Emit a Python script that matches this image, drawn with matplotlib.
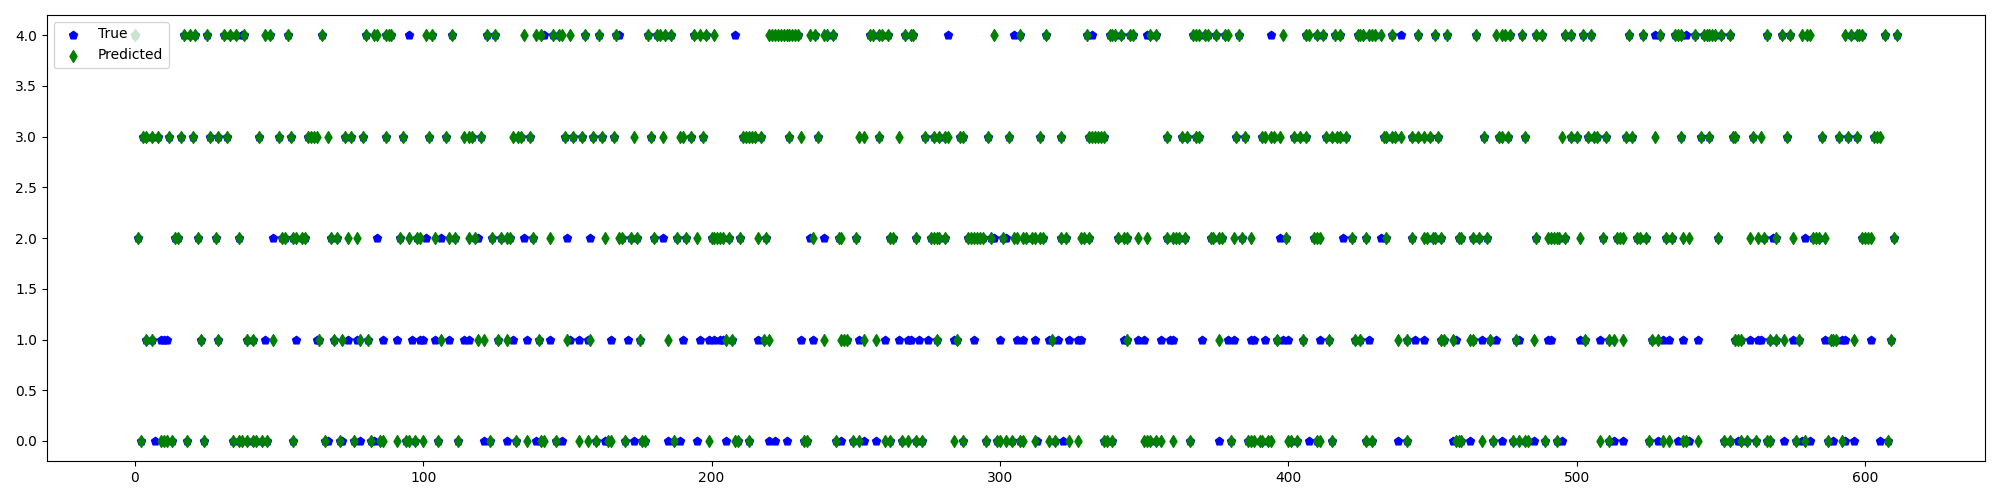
import numpy as np
import matplotlib
matplotlib.use('Agg')
import matplotlib.pyplot as plt

# indices of samples by predicted class (green diamonds)
pred_4 = [0, 17, 19, 21, 25, 31, 33, 35, 38, 45, 47,
          53, 65, 80, 83, 84, 87, 88, 89,
          101, 103, 110, 122, 125, 135, 139, 141, 145, 147, 148, 151,
          156, 161, 167, 178, 181, 182, 184, 186, 194, 196, 198, 201,
          220, 221, 222, 223, 224, 225, 226, 227, 228, 229, 230, 234, 236, 239, 240, 242, 255,
          256, 258, 259, 261, 267, 269, 270, 298, 307,
          316, 330, 338, 339, 340, 342, 345, 346, 352, 354,
          367, 368, 369, 371, 372, 375, 378, 379, 383, 398, 406, 407, 410,
          412, 416, 418, 424, 425, 426, 428, 429, 430, 432, 436, 445, 451, 455,
          465, 472, 474, 475, 477, 481, 486, 488, 496, 498, 502, 505,
          518, 523, 529, 534, 535, 536, 541, 544, 545, 546, 547, 548, 550, 553, 566,
          571, 574, 578, 580, 581, 593, 595, 597, 598, 599, 607, 611]
pred_3 = [3, 4, 6, 8, 12, 16, 20, 26, 29, 32, 43,
          50, 54, 60, 61, 62, 63, 67, 73, 75, 79, 87, 93,
          102, 108, 114, 116, 117, 120, 131, 133, 134, 137, 149,
          152, 155, 159, 162, 166, 173, 179, 183, 189, 190, 193, 197,
          211, 212, 213, 214, 215, 217, 227, 231, 237, 251, 253,
          258, 265, 274, 277, 279, 281, 282, 286, 287, 296, 303,
          314, 321, 331, 332, 333, 334, 335, 336, 358,
          363, 365, 368, 369, 382, 385, 391, 392, 394, 395, 397, 402, 404, 406,
          413, 415, 417, 418, 420, 433, 434, 436, 437, 439, 443, 445, 447, 449, 452,
          468, 473, 474, 476, 482, 495, 498, 500, 504, 506, 507, 510,
          517, 519, 527, 536, 543, 546, 554, 555, 561, 564,
          573, 585, 591, 594, 597, 603, 604, 605]
pred_2 = [1, 14, 15, 22, 28, 36,
          51, 52, 55, 56, 58, 59, 68, 70, 74, 77, 92, 95, 98,
          99, 104, 109, 111, 116, 118, 124, 127, 129, 130, 138, 144,
          163, 168, 169, 172, 174, 180, 188, 191, 195, 200, 201, 202,
          203, 204, 206, 210, 216, 219, 235, 244, 245, 250,
          262, 263, 271, 276, 277, 278, 279, 281, 289, 290, 291, 292, 293, 294, 297, 301, 305, 306,
          308, 309, 311, 312, 314, 315, 321, 323, 328, 329, 331, 341, 343, 344, 348, 351, 358,
          360, 361, 362, 364, 373, 374, 376, 377, 381, 384, 387, 399, 409, 410,
          411, 422, 427, 434, 443, 447, 448, 450, 451, 453, 459, 460,
          464, 466, 469, 486, 490, 491, 492, 493, 494, 496, 501, 509, 514,
          515, 516, 521, 522, 524, 531, 533, 537, 539, 549, 560, 563, 565,
          569, 575, 582, 583, 584, 586, 599, 600, 601, 602, 610]
pred_1 = [4, 6, 23, 29, 39, 41, 48,
          64, 69, 72, 78, 81,
          106, 119, 121, 126, 129, 140, 150,
          158, 175, 185,
          205, 207, 218, 220, 239, 245, 246, 247, 253,
          257, 278, 285,
          318, 344,
          376, 396, 405,
          414, 423, 425, 438, 441, 453, 454, 457, 463,
          464, 470, 479, 485, 503, 511, 513,
          516, 526, 528, 555, 556, 557,
          567, 569, 572, 577, 588, 589, 590, 596, 609]
pred_0 = [2, 9, 10, 11, 13, 18, 24, 34, 36, 37, 39, 41, 42, 44, 46,
          55, 66, 71, 76, 82, 85, 86, 91, 94, 95, 97,
          100, 105, 112, 123, 132, 136, 141, 142, 146,
          154, 157, 160, 164, 165, 170, 176, 177, 187, 199,
          208, 209, 213, 232, 233, 243, 249, 251,
          260, 262, 266, 268, 271, 273, 284, 287, 295, 299, 300, 302, 304,
          307, 308, 312, 317, 319, 324, 327, 336, 337, 339, 350, 351, 352, 354, 356,
          360, 366, 380, 386, 387, 388, 390, 391, 393, 394, 400, 401, 403, 410,
          411, 415, 427, 429, 441, 458, 459, 460,
          467, 471, 478, 480, 482, 483, 489, 493, 508, 511,
          525, 530, 532, 537, 538, 542, 551, 553, 557, 559, 562, 566,
          567, 576, 579, 587, 592, 608]

# true class of misclassified samples (blue pentagons left visible)
true_4 = [37, 95, 142, 168, 208, 282, 305, 332, 351, 394, 439, 527, 538]
true_3 = []
true_2 = [48, 84, 101, 106, 119, 135, 150, 158, 183, 234, 239, 298, 302,
          397, 419, 432, 568, 579]
true_1 = [9, 10, 11, 45, 56, 63, 74, 77, 86, 91, 96, 99,
          100, 104, 109, 114, 116, 131, 136, 144,
          151, 154, 157, 165, 171, 190, 196, 199, 201, 203,
          204, 216, 231, 235, 251,
          260, 265, 268, 269, 272, 275, 284, 291, 300, 306,
          308, 312, 317, 320, 324, 327, 328, 343, 348, 350, 356, 359,
          360, 370, 379, 381, 387, 388, 392, 398, 400, 411,
          428, 444, 447, 458,
          467, 472, 480, 490, 491, 501, 508,
          530, 532, 537, 542, 560, 563, 564,
          575, 586, 592, 593, 602]
true_0 = [7, 67, 72, 78, 83, 121, 129, 139, 148, 163, 173, 185, 189, 195,
          205, 220, 222, 226, 245, 253, 257, 313, 322, 376, 407,
          438, 457, 463, 474, 485, 495, 513, 516, 528, 535, 539, 556,
          572, 578, 581, 589, 593, 596, 605]

pred_lists = [pred_0, pred_1, pred_2, pred_3, pred_4]
true_lists = [true_0, true_1, true_2, true_3, true_4]

pred_x = np.concatenate([np.array(p, dtype=float) for p in pred_lists])
pred_y = np.concatenate([np.full(len(p), c, dtype=float) for c, p in enumerate(pred_lists)])

# true labels: misclassified ones from the lists, the rest equal the prediction
wrong = set(x for t in true_lists for x in t)
keep = np.array([x not in wrong for x in pred_x])
true_x = np.concatenate([np.array(t, dtype=float) for t in true_lists] + [pred_x[keep]])
true_y = np.concatenate([np.full(len(t), c, dtype=float) for c, t in enumerate(true_lists)] + [pred_y[keep]])

plt.figure(figsize=(20, 5))
plt.scatter(true_x, true_y, c='b', marker='p', label='True')
plt.scatter(pred_x, pred_y, c='g', marker='d', label='Predicted')
plt.legend(loc='upper left')
plt.tight_layout()
plt.savefig('out.png')
